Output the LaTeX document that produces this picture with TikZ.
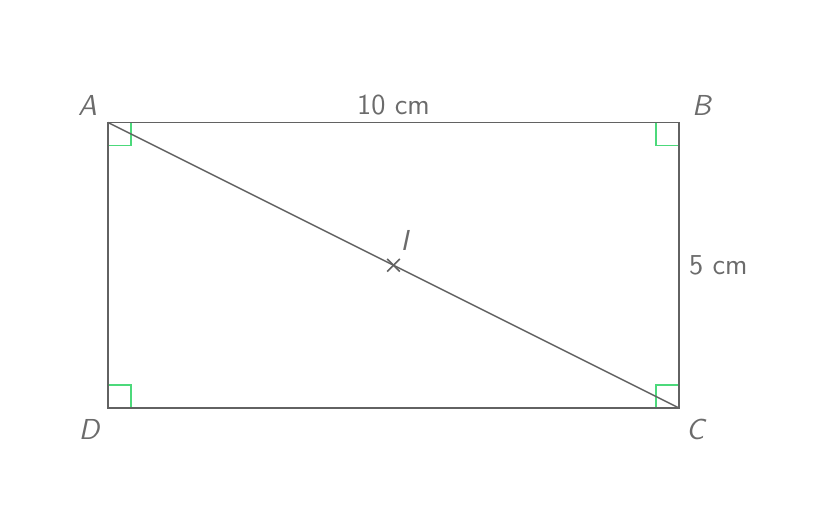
\documentclass[tikz,border=0pt]{standalone}
\usetikzlibrary{positioning,calc}
\definecolor{edgegrey}{HTML}{626262}
\definecolor{textgrey}{HTML}{6B6B6B}
\definecolor{anglegreen}{HTML}{4CD97B}
\tikzset{
 side/.style={draw=edgegrey,line width=0.75pt},
 rightangle/.style={draw=anglegreen,line width=0.75pt},
 lbl/.style={text=textgrey,font=\sffamily\Large}
}
\begin{document}
\begin{tikzpicture}
\useasboundingbox (-1.891,-1.979) rectangle (12.417,7.145);
 \coordinate (A) at (0,5);
 \coordinate (B) at (10,5);
 \coordinate (C) at (10,0);
 \coordinate (D) at (0,0);
 \coordinate (I) at (5,2.5);
%right angles
 \draw[rightangle] ([shift={(0,-0.4)}]A) -- ++(0.4,0) -- ++(0,0.4);
 \draw[rightangle] ([shift={(-0.4,0)}]B) -- ++(0,-0.4) -- ++(0.4,0);
 \draw[rightangle] ([shift={(-0.4,0)}]C) -- ++(0,0.4) -- ++(0.4,0);
 \draw[rightangle] ([shift={(0,0.4)}]D) -- ++(0.4,0) -- ++(0,-0.4);
%rectangle and diagonal
 \draw[side] (A) -- (B) -- (C) -- (D) -- cycle;
 \draw[side] (A) -- (C);
 \draw[side] ([shift={(-0.11,-0.11)}]I) -- ([shift={(0.11,0.11)}]I);
 \draw[side] ([shift={(-0.11,0.11)}]I) -- ([shift={(0.11,-0.11)}]I);
%labels
 \node[lbl,above left,xshift=-2pt] (labA) at (A) {\textit{A}};
 \node[lbl,above right,xshift=3pt] (labB) at (B) {\textit{B}};
 \node[lbl,below right,yshift=-2pt] (labC) at (C) {\textit{C}};
 \node[lbl,below left,yshift=-2pt] (labD) at (D) {\textit{D}};
 \node[lbl,above right,yshift=4pt] (labI) at (I) {\textit{I}};
 \node[lbl,above] (len) at ($(A)!0.5!(B)$) {10 cm};
 \node[lbl,right=1.5pt] (wid) at ($(B)!0.5!(C)$) {5 cm};
\end{tikzpicture}
\end{document}
